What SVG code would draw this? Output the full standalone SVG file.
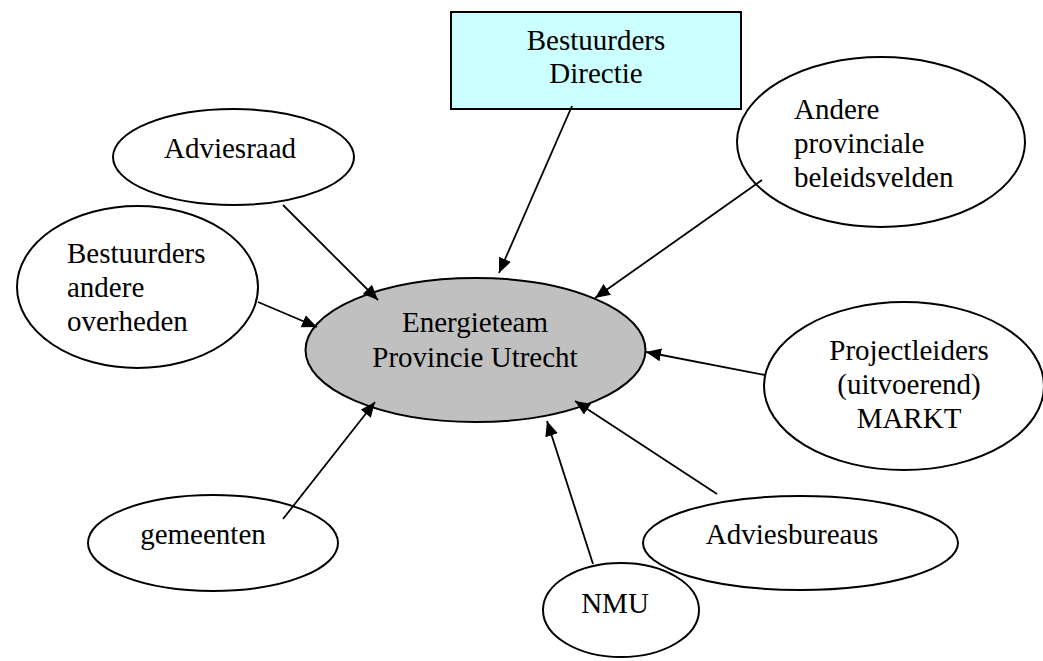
<svg xmlns="http://www.w3.org/2000/svg" width="1043" height="661" viewBox="0 0 1043 661">
<style>
text{font-family:"Liberation Serif","Times New Roman",serif;font-size:29px;fill:#000}
.c{text-anchor:middle}
.n{fill:#fff;stroke:#000;stroke-width:2}
.e{stroke:#000;stroke-width:1.8;fill:none;marker-end:url(#ah)}
</style>
<defs>
<marker id="ah" markerUnits="userSpaceOnUse" markerWidth="16" markerHeight="14" refX="15" refY="6.5" orient="auto">
<path d="M0,0 L15,6.5 L0,13 z" fill="#000"/>
</marker>
</defs>
<rect width="1043" height="661" fill="#fff"/>
<g id="directie">
<rect x="451" y="12" width="290" height="97" fill="#ccffff" stroke="#000" stroke-width="2"/>
<text class="c" x="596" y="50">Bestuurders</text>
<text class="c" x="596" y="83">Directie</text>
</g>
<g id="energieteam">
<ellipse cx="475.5" cy="350" rx="170" ry="72" fill="#c0c0c0" stroke="#000" stroke-width="2"/>
<text class="c" x="475" y="332">Energieteam</text>
<text class="c" x="475" y="367">Provincie Utrecht</text>
</g>
<g id="adviesraad">
<ellipse class="n" cx="233.5" cy="157" rx="120.5" ry="48"/>
<text class="c" x="230" y="158">Adviesraad</text>
</g>
<g id="bestuurders-andere">
<ellipse class="n" cx="137.5" cy="287" rx="120.5" ry="81"/>
<text x="67" y="263">Bestuurders</text>
<text x="67" y="297">andere</text>
<text x="67" y="331">overheden</text>
</g>
<g id="andere-provinciale">
<ellipse class="n" cx="881" cy="142" rx="144" ry="85"/>
<text x="794" y="119">Andere</text>
<text x="794" y="153">provinciale</text>
<text x="794" y="187">beleidsvelden</text>
</g>
<g id="projectleiders">
<ellipse class="n" cx="904" cy="386" rx="140" ry="84"/>
<text class="c" x="909" y="360">Projectleiders</text>
<text class="c" x="909" y="394">(uitvoerend)</text>
<text class="c" x="909" y="428">MARKT</text>
</g>
<g id="adviesbureaus">
<ellipse class="n" cx="800.5" cy="543" rx="157.5" ry="47"/>
<text class="c" x="792" y="544">Adviesbureaus</text>
</g>
<g id="gemeenten">
<ellipse class="n" cx="213" cy="543" rx="125" ry="48"/>
<text class="c" x="203" y="544">gemeenten</text>
</g>
<g id="nmu">
<ellipse class="n" cx="621" cy="610" rx="78" ry="47"/>
<text class="c" x="615" y="613">NMU</text>
</g>
<g id="connectors">
<line class="e" x1="572" y1="106" x2="499" y2="273"/>
<line class="e" x1="283" y1="205" x2="378" y2="300"/>
<line class="e" x1="258" y1="302" x2="317" y2="327"/>
<line class="e" x1="762" y1="180" x2="595" y2="298"/>
<line class="e" x1="765" y1="375" x2="646" y2="352"/>
<line class="e" x1="717" y1="494" x2="575" y2="401"/>
<line class="e" x1="593" y1="564" x2="547" y2="421"/>
<line class="e" x1="283" y1="519" x2="375" y2="402"/>
</g>
</svg>
